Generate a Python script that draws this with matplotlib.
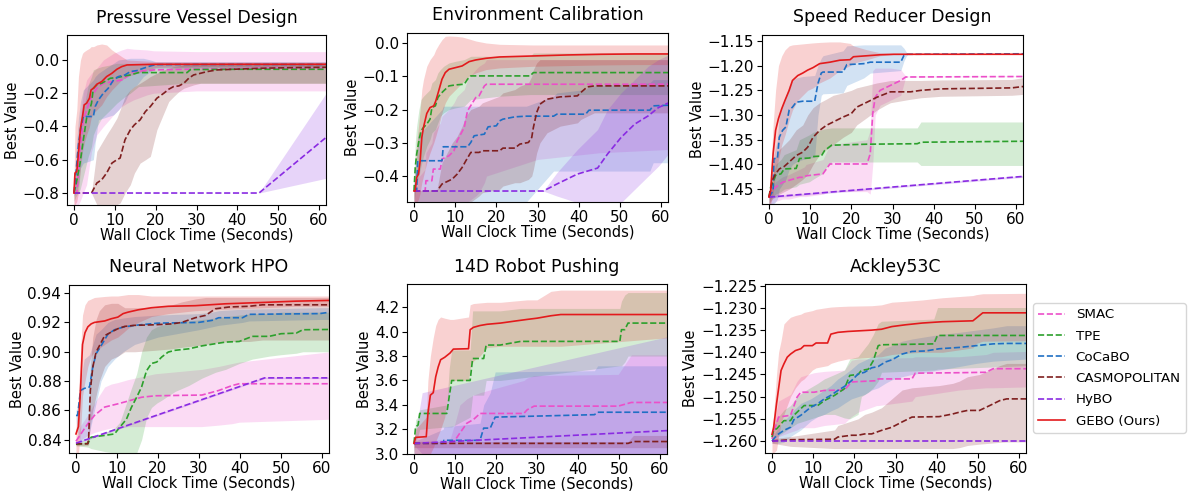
import matplotlib
matplotlib.use("Agg")
import matplotlib.pyplot as plt

# ---- series names / colours ----
names = ["SMAC", "TPE", "CoCaBO", "CASMOPOLITAN", "HyBO", "GEBO (Ours)"]
colors = ["#ec4fc9", "#2ca02c", "#1f6fc4", "#7f1f1f", "#8a2be2", "#e31a1c"]
titles = ["Pressure Vessel Design", "Environment Calibration", "Speed Reducer Design",
          "Neural Network HPO", "14D Robot Pushing", "Ackley53C"]

# ---------------- Pressure Vessel Design ----------------
pv_smac_t = [0, 0.7, 1.1, 1.5, 2.3, 3.1, 4.3, 5.6, 7.2, 9.7, 11.7, 13, 14.6, 17.9, 19.5, 30, 45, 62]
pv_smac_y = [-0.80, -0.80, -0.66, -0.52, -0.36, -0.30, -0.22, -0.17, -0.14, -0.13, -0.12, -0.10, -0.07, -0.064, -0.06, -0.055, -0.05, -0.05]
pv_smac_lo = [-0.87, -0.87, -0.87, -0.85, -0.80, -0.75, -0.55, -0.45, -0.40, -0.33, -0.28, -0.26, -0.24, -0.21, -0.20, -0.186, -0.186, -0.186]
pv_smac_hi = [-0.75, -0.70, -0.50, -0.35, -0.20, -0.12, -0.08, -0.05, 0.0, 0.04, 0.06, 0.07, 0.065, 0.06, 0.055, 0.05, 0.05, 0.05]

pv_tpe_t = [0, 0.5, 1.5, 2.3, 3.1, 3.5, 4.3, 4.75, 5.6, 6.8, 8.9, 10.5, 12.5, 13.8, 15.8, 27.7, 28.5, 40, 50, 62]
pv_tpe_y = [-0.80, -0.75, -0.62, -0.48, -0.35, -0.33, -0.26, -0.17, -0.15, -0.14, -0.11, -0.106, -0.096, -0.09, -0.076, -0.076, -0.058, -0.056, -0.056, -0.056]
pv_tpe_lo = [-0.85, -0.82, -0.78, -0.70, -0.62, -0.58, -0.52, -0.45, -0.40, -0.35, -0.30, -0.26, -0.22, -0.20, -0.16, -0.14, -0.14, -0.14, -0.14, -0.14]
pv_tpe_hi = [-0.75, -0.65, -0.45, -0.30, -0.20, -0.15, -0.10, -0.06, -0.05, -0.04, -0.03, -0.02, -0.02, -0.02, -0.02, -0.02, -0.02, -0.02, -0.02, -0.02]

pv_cocabo_t = [0, 0.5, 1.1, 1.6, 2.3, 4.75, 5.2, 6, 7.2, 8.4, 9.7, 10.9, 12.5, 13.8, 15.4, 17, 18.7, 20, 30, 45, 62]
pv_cocabo_y = [-0.80, -0.68, -0.51, -0.42, -0.34, -0.34, -0.28, -0.24, -0.20, -0.17, -0.12, -0.10, -0.09, -0.07, -0.064, -0.05, -0.036, -0.028, -0.027, -0.027, -0.027]
pv_cocabo_lo = [-0.82, -0.80, -0.75, -0.65, -0.62, -0.60, -0.50, -0.36, -0.35, -0.34, -0.33, -0.30, -0.25, -0.18, -0.15, -0.10, -0.07, -0.05, -0.045, -0.045, -0.045]
pv_cocabo_hi = [-0.78, -0.55, -0.35, -0.25, -0.18, -0.12, -0.10, -0.08, -0.06, -0.04, -0.02, 0.0, 0.005, 0.01, 0.01, 0.01, 0.0, -0.01, -0.01, -0.01, -0.01]

pv_casmo_t = [0, 4.3, 5.6, 6.8, 8, 9.3, 10.5, 11.3, 12.5, 13.8, 14.8, 16.2, 17.5, 18.7, 20.3, 22, 23.2, 24.4, 25.7, 26.9, 28.1, 29.3, 31, 32.6, 35, 39, 45.7, 54, 62]
pv_casmo_y = [-0.80, -0.80, -0.74, -0.72, -0.68, -0.62, -0.60, -0.59, -0.48, -0.42, -0.39, -0.36, -0.31, -0.28, -0.23, -0.20, -0.176, -0.16, -0.156, -0.14, -0.11, -0.09, -0.08, -0.07, -0.06, -0.056, -0.05, -0.046, -0.044]
pv_casmo_lo = [-0.80, -0.80, -0.87, -0.87, -0.87, -0.87, -0.87, -0.86, -0.80, -0.75, -0.68, -0.62, -0.60, -0.58, -0.42, -0.32, -0.25, -0.22, -0.19, -0.17, -0.16, -0.15, -0.14, -0.14, -0.14, -0.14, -0.14, -0.14, -0.14]
pv_casmo_hi = [-0.80, -0.80, -0.55, -0.50, -0.45, -0.40, -0.35, -0.30, -0.22, -0.18, -0.16, -0.14, -0.12, -0.10, -0.08, -0.06, -0.05, -0.04, -0.035, -0.03, -0.025, -0.02, -0.02, -0.02, -0.02, -0.02, -0.02, -0.02, -0.02]

pv_hybo_t = [0, 45.3, 62]
pv_hybo_y = [-0.80, -0.80, -0.46]
pv_hybo_lo = [-0.80, -0.80, -0.71]
pv_hybo_hi = [-0.80, -0.80, -0.19]

pv_gebo_t = [0, 0.25, 0.7, 1.1, 1.6, 2.1, 2.5, 3.1, 3.8, 4.2, 4.8, 5.6, 6.8, 8, 9.3, 10.5, 11.7, 13, 20, 30, 40, 50, 62]
pv_gebo_y = [-0.80, -0.68, -0.67, -0.56, -0.41, -0.34, -0.27, -0.26, -0.23, -0.18, -0.17, -0.146, -0.13, -0.10, -0.08, -0.056, -0.04, -0.03, -0.026, -0.026, -0.026, -0.026, -0.026]
pv_gebo_lo = [-0.87, -0.87, -0.85, -0.80, -0.65, -0.55, -0.50, -0.45, -0.40, -0.35, -0.32, -0.30, -0.27, -0.22, -0.18, -0.15, -0.12, -0.10, -0.045, -0.04, -0.04, -0.04, -0.04]
pv_gebo_hi = [-0.75, -0.40, -0.30, -0.10, 0.0, 0.04, 0.05, 0.06, 0.07, 0.08, 0.08, 0.09, 0.096, 0.09, 0.06, 0.04, 0.02, 0.0, -0.01, -0.012, -0.012, -0.012, -0.012]

# ---------------- Environment Calibration ----------------
ec_smac_t = [0, 2.7, 2.9, 4.35, 4.7, 6.4, 6.8, 8.5, 9.7, 10.5, 12.2, 13, 15, 15.8, 17.1, 17.6, 30, 45, 62]
ec_smac_y = [-0.445, -0.445, -0.414, -0.414, -0.379, -0.379, -0.349, -0.339, -0.324, -0.294, -0.254, -0.204, -0.164, -0.159, -0.129, -0.124, -0.124, -0.124, -0.124]
ec_smac_lo = [-0.478, -0.478, -0.478, -0.478, -0.478, -0.478, -0.478, -0.478, -0.478, -0.478, -0.478, -0.478, -0.46, -0.45, -0.42, -0.40, -0.35, -0.33, -0.32]
ec_smac_hi = [-0.42, -0.38, -0.33, -0.30, -0.27, -0.24, -0.22, -0.20, -0.18, -0.16, -0.14, -0.11, -0.08, -0.07, -0.06, -0.05, -0.05, -0.05, -0.05]

ec_tpe_t = [0, 0.3, 0.65, 1.2, 1.7, 2.3, 3.1, 3.9, 4.35, 5.2, 5.8, 6.4, 7.2, 8.5, 10.1, 12.2, 13, 13.8, 20.8, 28.2, 29, 40, 50, 62]
ec_tpe_y = [-0.445, -0.374, -0.334, -0.294, -0.264, -0.254, -0.244, -0.229, -0.194, -0.189, -0.164, -0.154, -0.144, -0.129, -0.126, -0.124, -0.109, -0.099, -0.099, -0.099, -0.089, -0.089, -0.089, -0.089]
ec_tpe_lo = [-0.478, -0.45, -0.42, -0.40, -0.37, -0.34, -0.31, -0.29, -0.27, -0.26, -0.24, -0.22, -0.21, -0.20, -0.195, -0.19, -0.18, -0.17, -0.16, -0.155, -0.155, -0.155, -0.155, -0.155]
ec_tpe_hi = [-0.42, -0.30, -0.25, -0.20, -0.17, -0.16, -0.15, -0.14, -0.12, -0.11, -0.09, -0.08, -0.07, -0.06, -0.055, -0.05, -0.045, -0.04, -0.04, -0.04, -0.03, -0.03, -0.03, -0.03]

ec_cocabo_t = [0, 0.65, 0.9, 6.8, 7.1, 13, 13.8, 14.6, 17.1, 18, 20, 20.8, 21.6, 24.5, 27.3, 33.9, 34.7, 41.7, 42.5, 57.3, 58.1, 62]
ec_cocabo_y = [-0.445, -0.445, -0.354, -0.354, -0.312, -0.312, -0.299, -0.279, -0.274, -0.252, -0.249, -0.234, -0.229, -0.222, -0.22, -0.22, -0.214, -0.214, -0.202, -0.202, -0.189, -0.187]
ec_cocabo_lo = [-0.478, -0.478, -0.478, -0.478, -0.478, -0.478, -0.478, -0.478, -0.478, -0.478, -0.478, -0.478, -0.478, -0.478, -0.478, -0.385, -0.385, -0.385, -0.385, -0.385, -0.36, -0.36]
ec_cocabo_hi = [-0.40, -0.35, -0.28, -0.20, -0.19, -0.19, -0.19, -0.19, -0.19, -0.19, -0.19, -0.19, -0.19, -0.19, -0.19, -0.16, -0.15, -0.14, -0.13, -0.12, -0.11, -0.11]

ec_casmo_t = [0, 5.6, 6.8, 9.3, 10.5, 11.7, 12.6, 13.8, 15.8, 16.6, 20.8, 21.6, 24.5, 25.7, 27.8, 28.6, 29, 29.8, 30.6, 32.3, 35.5, 39.7, 40.5, 42.1, 43.8, 62]
ec_casmo_y = [-0.445, -0.445, -0.424, -0.409, -0.394, -0.374, -0.354, -0.329, -0.329, -0.324, -0.324, -0.316, -0.316, -0.304, -0.299, -0.284, -0.254, -0.209, -0.184, -0.169, -0.162, -0.159, -0.149, -0.132, -0.129, -0.129]
ec_casmo_lo = [-0.478, -0.478, -0.478, -0.478, -0.478, -0.478, -0.478, -0.478, -0.46, -0.45, -0.44, -0.43, -0.42, -0.42, -0.41, -0.40, -0.38, -0.33, -0.30, -0.27, -0.25, -0.24, -0.23, -0.22, -0.21, -0.21]
ec_casmo_hi = [-0.445, -0.44, -0.36, -0.30, -0.28, -0.25, -0.22, -0.20, -0.19, -0.18, -0.16, -0.15, -0.14, -0.13, -0.12, -0.10, -0.08, -0.06, -0.05, -0.05, -0.05, -0.05, -0.05, -0.05, -0.05, -0.05]

ec_hybo_t = [0, 31.4, 34.7, 39.7, 44.6, 47, 50.3, 53.6, 56.9, 59.4, 62]
ec_hybo_y = [-0.445, -0.445, -0.424, -0.394, -0.376, -0.334, -0.284, -0.244, -0.219, -0.194, -0.179]
ec_hybo_lo = [-0.445, -0.445, -0.46, -0.48, -0.50, -0.50, -0.48, -0.44, -0.40, -0.37, -0.33]
ec_hybo_hi = [-0.445, -0.445, -0.39, -0.32, -0.26, -0.20, -0.15, -0.11, -0.07, -0.05, -0.035]

ec_gebo_t = [0, 0.25, 0.65, 1.1, 1.5, 1.9, 2.3, 3.1, 3.9, 4.8, 5.3, 6, 6.8, 7.6, 8.5, 10.1, 11.7, 13.4, 15, 17.5, 20.8, 29, 37.2, 45.4, 53.6, 62]
ec_gebo_y = [-0.445, -0.445, -0.404, -0.394, -0.354, -0.284, -0.254, -0.212, -0.194, -0.189, -0.174, -0.144, -0.109, -0.089, -0.079, -0.074, -0.069, -0.056, -0.051, -0.046, -0.042, -0.039, -0.036, -0.034, -0.033, -0.033]
ec_gebo_lo = [-0.478, -0.478, -0.478, -0.47, -0.45, -0.42, -0.40, -0.36, -0.33, -0.30, -0.28, -0.25, -0.21, -0.18, -0.16, -0.14, -0.12, -0.10, -0.09, -0.08, -0.075, -0.07, -0.068, -0.066, -0.065, -0.065]
ec_gebo_hi = [-0.445, -0.40, -0.30, -0.25, -0.20, -0.14, -0.11, -0.07, -0.05, -0.035, -0.02, -0.005, 0.01, 0.02, 0.021, 0.02, 0.018, 0.012, 0.006, 0.0, -0.004, -0.006, -0.006, -0.006, -0.006, -0.006]

# ---------------- Speed Reducer Design ----------------
sr_smac_t = [0, 0.8, 1.6, 3.3, 4.9, 7.4, 8.6, 9, 13.1, 14.8, 23.8, 24.6, 25.2, 25.8, 27, 29.5, 32, 33.2, 62]
sr_smac_y = [-1.466, -1.453, -1.446, -1.436, -1.432, -1.426, -1.426, -1.423, -1.419, -1.399, -1.399, -1.378, -1.297, -1.264, -1.25, -1.24, -1.23, -1.223, -1.222]
sr_smac_lo = [-1.48, -1.48, -1.475, -1.47, -1.47, -1.465, -1.465, -1.465, -1.46, -1.455, -1.455, -1.46, -1.40, -1.30, -1.28, -1.27, -1.26, -1.223, -1.222]
sr_smac_hi = [-1.46, -1.445, -1.435, -1.425, -1.42, -1.41, -1.405, -1.40, -1.39, -1.36, -1.35, -1.33, -1.21, -1.205, -1.205, -1.205, -1.208, -1.221, -1.221]

sr_tpe_t = [0, 0.4, 1, 1.6, 2.9, 3.7, 6.6, 7.4, 9.8, 10.7, 12.7, 13.5, 15.2, 23.8, 36, 36.9, 62]
sr_tpe_y = [-1.466, -1.446, -1.436, -1.422, -1.419, -1.409, -1.408, -1.388, -1.387, -1.384, -1.383, -1.372, -1.361, -1.359, -1.358, -1.355, -1.353]
sr_tpe_lo = [-1.48, -1.47, -1.465, -1.46, -1.455, -1.45, -1.445, -1.44, -1.435, -1.43, -1.42, -1.41, -1.395, -1.395, -1.395, -1.402, -1.402]
sr_tpe_hi = [-1.46, -1.43, -1.42, -1.40, -1.39, -1.38, -1.37, -1.35, -1.34, -1.335, -1.33, -1.328, -1.326, -1.326, -1.326, -1.314, -1.314]

sr_cocabo_t = [0, 1, 1.2, 2.05, 2.5, 3.3, 4.1, 4.9, 5.7, 6.6, 8.2, 11.1, 11.9, 12.7, 13.1, 18, 18.9, 23, 24.6, 32, 32.8, 33.6, 62]
sr_cocabo_y = [-1.466, -1.453, -1.388, -1.388, -1.345, -1.331, -1.324, -1.29, -1.284, -1.274, -1.272, -1.272, -1.236, -1.215, -1.213, -1.213, -1.198, -1.196, -1.193, -1.193, -1.179, -1.177, -1.176]
sr_cocabo_lo = [-1.48, -1.48, -1.48, -1.47, -1.45, -1.44, -1.43, -1.41, -1.40, -1.395, -1.39, -1.385, -1.30, -1.26, -1.257, -1.255, -1.24, -1.225, -1.215, -1.21, -1.19, -1.177, -1.176]
sr_cocabo_hi = [-1.46, -1.44, -1.38, -1.35, -1.30, -1.28, -1.26, -1.24, -1.23, -1.225, -1.222, -1.22, -1.20, -1.185, -1.18, -1.17, -1.16, -1.158, -1.158, -1.158, -1.165, -1.176, -1.176]

sr_casmo_t = [0, 0.8, 1.6, 2.5, 3.7, 4.9, 6.6, 8.2, 9.4, 10.7, 12.3, 13.9, 15.6, 18, 20, 21.3, 23.8, 26.2, 28.3, 29.5, 34.4, 36.9, 41.8, 59, 62]
sr_casmo_y = [-1.466, -1.432, -1.419, -1.409, -1.404, -1.395, -1.382, -1.375, -1.365, -1.345, -1.331, -1.321, -1.314, -1.304, -1.297, -1.284, -1.274, -1.264, -1.257, -1.253, -1.253, -1.25, -1.247, -1.245, -1.242]
sr_casmo_lo = [-1.48, -1.47, -1.465, -1.46, -1.455, -1.45, -1.44, -1.43, -1.42, -1.40, -1.38, -1.37, -1.36, -1.345, -1.335, -1.32, -1.305, -1.29, -1.28, -1.275, -1.268, -1.265, -1.262, -1.26, -1.258]
sr_casmo_hi = [-1.46, -1.40, -1.385, -1.37, -1.36, -1.35, -1.33, -1.32, -1.30, -1.285, -1.275, -1.268, -1.26, -1.255, -1.25, -1.245, -1.24, -1.235, -1.232, -1.23, -1.23, -1.23, -1.229, -1.228, -1.224]

sr_hybo_t = [0, 62]
sr_hybo_y = [-1.466, -1.424]
sr_hybo_lo = [-1.468, -1.426]
sr_hybo_hi = [-1.464, -1.422]

sr_gebo_t = [0, 0.4, 1, 1.6, 2.3, 3.1, 3.9, 4.9, 5.7, 7, 8.2, 9.4, 10.7, 12.3, 14.8, 17.2, 19.7, 20.5, 23.8, 27, 30.3, 45, 62]
sr_gebo_y = [-1.466, -1.453, -1.378, -1.331, -1.307, -1.287, -1.27, -1.25, -1.23, -1.22, -1.215, -1.209, -1.204, -1.196, -1.193, -1.189, -1.188, -1.182, -1.18, -1.178, -1.177, -1.177, -1.177]
sr_gebo_lo = [-1.48, -1.48, -1.46, -1.42, -1.39, -1.36, -1.34, -1.31, -1.29, -1.27, -1.26, -1.25, -1.245, -1.235, -1.225, -1.21, -1.20, -1.195, -1.188, -1.18, -1.178, -1.177, -1.177]
sr_gebo_hi = [-1.46, -1.42, -1.32, -1.25, -1.20, -1.18, -1.168, -1.16, -1.158, -1.157, -1.156, -1.155, -1.154, -1.153, -1.152, -1.152, -1.155, -1.16, -1.168, -1.174, -1.176, -1.176, -1.176]

# ---------------- Neural Network HPO ----------------
nn_smac_t = [0, 1.2, 2.9, 4.5, 7, 8.6, 10.2, 12.7, 16, 19.3, 30.7, 34.8, 38.1, 39.8, 62]
nn_smac_y = [0.839, 0.844, 0.851, 0.8566, 0.8623, 0.8634, 0.8645, 0.8664, 0.869, 0.87, 0.8705, 0.8736, 0.877, 0.8782, 0.8782]
nn_smac_lo = [0.838, 0.84, 0.843, 0.845, 0.847, 0.848, 0.848, 0.849, 0.849, 0.849, 0.849, 0.85, 0.851, 0.852, 0.854]
nn_smac_hi = [0.84, 0.85, 0.857, 0.865, 0.876, 0.878, 0.879, 0.881, 0.883, 0.885, 0.888, 0.89, 0.892, 0.893, 0.90]

nn_tpe_t = [0, 2.9, 3.7, 7, 9.4, 10.7, 12.3, 13.5, 14.8, 16, 17.2, 18.4, 19.7, 20.9, 22.5, 24.2, 27.5, 30.7, 34, 36.5, 39.8, 43, 47.1, 50, 53.7, 55.3, 62]
nn_tpe_y = [0.837, 0.8375, 0.8418, 0.843, 0.844, 0.8486, 0.854, 0.862, 0.869, 0.876, 0.887, 0.892, 0.893, 0.8964, 0.8998, 0.901, 0.902, 0.904, 0.9055, 0.9066, 0.907, 0.9105, 0.9105, 0.9123, 0.9127, 0.915, 0.9152]
nn_tpe_lo = [0.836, 0.835, 0.834, 0.832, 0.831, 0.831, 0.831, 0.831, 0.831, 0.84, 0.855, 0.862, 0.865, 0.867, 0.87, 0.873, 0.877, 0.882, 0.886, 0.888, 0.892, 0.895, 0.897, 0.898, 0.899, 0.90, 0.90]
nn_tpe_hi = [0.838, 0.84, 0.842, 0.845, 0.848, 0.852, 0.865, 0.875, 0.885, 0.90, 0.91, 0.915, 0.917, 0.918, 0.919, 0.92, 0.921, 0.922, 0.923, 0.924, 0.925, 0.926, 0.926, 0.927, 0.927, 0.927, 0.927]

nn_cocabo_t = [0, 0.4, 1.1, 2, 3.3, 4.1, 4.9, 6.1, 7.8, 9.4, 11.5, 14.3, 20, 29.9, 33.2, 34.8, 40.6, 42.2, 59.4, 62]
nn_cocabo_y = [0.8566, 0.8566, 0.8736, 0.875, 0.876, 0.8895, 0.8986, 0.904, 0.912, 0.915, 0.9168, 0.918, 0.9195, 0.92, 0.9214, 0.9232, 0.9232, 0.9255, 0.926, 0.927]
nn_cocabo_lo = [0.853, 0.845, 0.838, 0.84, 0.845, 0.855, 0.865, 0.88, 0.89, 0.895, 0.90, 0.905, 0.91, 0.915, 0.917, 0.918, 0.92, 0.921, 0.922, 0.922]
nn_cocabo_hi = [0.86, 0.862, 0.88, 0.895, 0.898, 0.905, 0.912, 0.915, 0.92, 0.922, 0.923, 0.924, 0.925, 0.926, 0.927, 0.928, 0.929, 0.929, 0.93, 0.93]

nn_casmo_t = [0, 2.9, 3.1, 3.5, 4.1, 4.9, 5.7, 7, 8.6, 10.2, 11.9, 14.3, 19.3, 23.4, 25.8, 29.1, 31.6, 34, 37.3, 42.2, 45.5, 62]
nn_casmo_y = [0.8373, 0.8373, 0.842, 0.8736, 0.8895, 0.8998, 0.904, 0.911, 0.9134, 0.9157, 0.9173, 0.918, 0.9184, 0.919, 0.92, 0.9232, 0.9248, 0.9293, 0.9305, 0.931, 0.932, 0.932]
nn_casmo_lo = [0.836, 0.836, 0.837, 0.85, 0.86, 0.87, 0.88, 0.89, 0.895, 0.897, 0.90, 0.90, 0.901, 0.902, 0.903, 0.904, 0.905, 0.906, 0.907, 0.907, 0.908, 0.908]
nn_casmo_hi = [0.838, 0.838, 0.85, 0.89, 0.91, 0.922, 0.928, 0.932, 0.933, 0.933, 0.93, 0.93, 0.93, 0.932, 0.934, 0.936, 0.937, 0.937, 0.937, 0.937, 0.937, 0.937]

nn_hybo_t = [0, 46, 62]
nn_hybo_y = [0.8377, 0.8822, 0.8822]
nn_hybo_lo = [0.8372, 0.8817, 0.8817]
nn_hybo_hi = [0.8382, 0.8827, 0.8827]

nn_gebo_t = [0, 0.6, 1.1, 1.6, 2.2, 2.9, 3.7, 4.5, 7, 8.6, 10.2, 11.5, 12.7, 15.2, 18.4, 22.5, 29.1, 36.5, 45.5, 53.7, 62]
nn_gebo_y = [0.844, 0.849, 0.874, 0.905, 0.913, 0.917, 0.919, 0.92, 0.921, 0.9225, 0.9236, 0.926, 0.927, 0.9286, 0.93, 0.931, 0.9314, 0.9327, 0.9336, 0.9345, 0.935]
nn_gebo_lo = [0.831, 0.831, 0.845, 0.87, 0.88, 0.89, 0.897, 0.90, 0.905, 0.908, 0.91, 0.913, 0.916, 0.92, 0.924, 0.926, 0.928, 0.929, 0.93, 0.931, 0.931]
nn_gebo_hi = [0.848, 0.87, 0.90, 0.925, 0.932, 0.935, 0.936, 0.937, 0.9377, 0.938, 0.938, 0.9385, 0.939, 0.939, 0.938, 0.938, 0.938, 0.938, 0.938, 0.938, 0.938]

# ---------------- 14D Robot Pushing ----------------
rp_smac_t = [0, 8.8, 10, 11.2, 12.9, 14.5, 16.1, 26.8, 27.6, 29.3, 49.8, 53, 62]
rp_smac_y = [3.085, 3.085, 3.11, 3.17, 3.25, 3.28, 3.33, 3.33, 3.36, 3.39, 3.39, 3.42, 3.42]
rp_smac_lo = [3.0, 3.0, 3.0, 3.0, 3.0, 3.0, 3.0, 3.0, 3.0, 3.0, 3.0, 3.0, 3.0]
rp_smac_hi = [3.1, 3.12, 3.25, 3.4, 3.45, 3.48, 3.5, 3.6, 3.62, 3.64, 3.65, 3.81, 3.81]

rp_tpe_t = [0, 0.4, 1, 1.4, 8, 8.6, 9.2, 13.7, 14.3, 17, 17.6, 21, 26, 50.2, 50.6, 51.4, 52.2, 62]
rp_tpe_y = [3.085, 3.22, 3.235, 3.33, 3.33, 3.47, 3.6, 3.6, 3.78, 3.78, 3.89, 3.89, 3.92, 3.92, 4.016, 4.016, 4.07, 4.07]
rp_tpe_lo = [3.0, 3.1, 3.15, 3.2, 3.22, 3.22, 3.22, 3.3, 3.48, 3.48, 3.6, 3.6, 3.62, 3.72, 3.72, 3.75, 3.8, 3.8]
rp_tpe_hi = [3.1, 3.28, 3.3, 3.36, 3.4, 3.7, 3.85, 3.85, 4.17, 4.17, 4.17, 4.17, 4.19, 4.19, 4.25, 4.3, 4.32, 4.32]

rp_cocabo_t = [0, 7.1, 7.3, 16.1, 17, 18.6, 19.8, 44, 44.8, 62]
rp_cocabo_y = [3.085, 3.085, 3.11, 3.11, 3.21, 3.21, 3.30, 3.32, 3.34, 3.34]
rp_cocabo_lo = [3.0, 3.0, 3.0, 3.0, 3.0, 3.0, 3.0, 3.0, 3.0, 3.0]
rp_cocabo_hi = [3.1, 3.2, 3.22, 3.25, 3.4, 3.5, 3.67, 3.68, 3.72, 3.72]

rp_casmo_t = [0, 52.2, 53.5, 62]
rp_casmo_y = [3.085, 3.085, 3.10, 3.10]
rp_casmo_lo = [3.05, 3.05, 3.05, 3.05]
rp_casmo_hi = [3.10, 3.10, 3.15, 3.15]

rp_hybo_t = [0, 2, 62]
rp_hybo_y = [3.085, 3.088, 3.19]
rp_hybo_lo = [3.07, 3.0, 3.0]
rp_hybo_hi = [3.10, 3.50, 3.96]

rp_gebo_t = [0, 0.4, 3, 3.4, 4, 4.7, 5.3, 5.9, 6.5, 7.5, 8.8, 9.6, 13.3, 13.7, 14.5, 16.1, 17.8, 21.1, 24.3, 27.6, 30, 33.4, 35.8, 62]
rp_gebo_y = [3.085, 3.134, 3.14, 3.33, 3.48, 3.50, 3.63, 3.71, 3.77, 3.79, 3.825, 3.857, 3.86, 4.016, 4.035, 4.05, 4.06, 4.07, 4.085, 4.10, 4.11, 4.13, 4.14, 4.14]
rp_gebo_lo = [3.0, 3.0, 3.0, 3.0, 3.0, 3.05, 3.1, 3.15, 3.2, 3.3, 3.6, 3.6, 3.6, 3.7, 3.76, 3.8, 3.87, 3.88, 3.88, 3.88, 3.88, 3.88, 3.88, 3.95]
rp_gebo_hi = [3.1, 3.2, 3.3, 3.6, 3.8, 3.95, 4.05, 4.10, 4.12, 4.11, 4.10, 4.10, 4.12, 4.22, 4.23, 4.235, 4.24, 4.24, 4.25, 4.26, 4.26, 4.33, 4.34, 4.34]

# ---------------- Ackley53C ----------------
ak_smac_t = [0, 0.8, 1.6, 4.5, 6.1, 7, 10.2, 12.7, 17.6, 19.3, 20.9, 25.4, 25.8, 34, 34.8, 45.5, 52, 53.7, 62]
ak_smac_y = [-1.2595, -1.2569, -1.2546, -1.2542, -1.2501, -1.249, -1.249, -1.2486, -1.2485, -1.2467, -1.2466, -1.2464, -1.246, -1.246, -1.2447, -1.2446, -1.2445, -1.2437, -1.2437]
ak_smac_lo = [-1.2605, -1.26, -1.259, -1.258, -1.2575, -1.257, -1.257, -1.2565, -1.256, -1.2545, -1.2535, -1.252, -1.252, -1.251, -1.25, -1.2485, -1.248, -1.248, -1.2478]
ak_smac_hi = [-1.259, -1.2545, -1.251, -1.2495, -1.2465, -1.2455, -1.2446, -1.2443, -1.244, -1.2418, -1.2415, -1.2415, -1.2413, -1.2412, -1.241, -1.241, -1.2405, -1.24, -1.2398]

ak_tpe_t = [0, 0.4, 1.2, 2.9, 4.5, 5.3, 6.1, 7.8, 11.1, 12.7, 15.2, 17.6, 18.9, 20.9, 21.7, 23.4, 24.6, 25.8, 26.6, 39.3, 40.2, 62]
ak_tpe_y = [-1.2591, -1.2576, -1.2572, -1.2554, -1.2554, -1.2542, -1.2535, -1.252, -1.252, -1.2509, -1.2497, -1.2482, -1.2452, -1.245, -1.2441, -1.2438, -1.2419, -1.2385, -1.2383, -1.2381, -1.2362, -1.2362]
ak_tpe_lo = [-1.26, -1.2595, -1.259, -1.258, -1.257, -1.2565, -1.256, -1.2555, -1.2545, -1.254, -1.254, -1.2548, -1.255, -1.254, -1.25, -1.249, -1.248, -1.2465, -1.2445, -1.244, -1.2438, -1.243]
ak_tpe_hi = [-1.258, -1.2565, -1.255, -1.253, -1.252, -1.251, -1.25, -1.2488, -1.247, -1.246, -1.245, -1.244, -1.2415, -1.241, -1.24, -1.238, -1.236, -1.2335, -1.233, -1.2325, -1.2299, -1.2299]

ak_cocabo_t = [0, 0.8, 1.6, 2.9, 4.5, 5.3, 7, 9.4, 11.1, 12.7, 14.3, 16, 17.6, 19.3, 20.9, 22.5, 24.2, 25.8, 27.5, 29.1, 31.6, 34, 37.3, 40.6, 45.5, 49.6, 53.7, 57, 62]
ak_cocabo_y = [-1.26, -1.2591, -1.2584, -1.2576, -1.2569, -1.2552, -1.2542, -1.2524, -1.2516, -1.2505, -1.2497, -1.2486, -1.2477, -1.2464, -1.2449, -1.2445, -1.2435, -1.2432, -1.2422, -1.2417, -1.2404, -1.2398, -1.2397, -1.2392, -1.2389, -1.2385, -1.2381, -1.238, -1.238]
ak_cocabo_lo = [-1.2605, -1.2605, -1.2605, -1.2603, -1.259, -1.2585, -1.2575, -1.2555, -1.2545, -1.254, -1.2532, -1.2525, -1.2515, -1.2505, -1.25, -1.2495, -1.2485, -1.248, -1.247, -1.2462, -1.2455, -1.245, -1.2445, -1.244, -1.2432, -1.2425, -1.242, -1.2418, -1.2415]
ak_cocabo_hi = [-1.2595, -1.258, -1.257, -1.2555, -1.254, -1.253, -1.2515, -1.2505, -1.2495, -1.2485, -1.2475, -1.246, -1.245, -1.2438, -1.2425, -1.2418, -1.241, -1.2405, -1.239, -1.2385, -1.2375, -1.237, -1.2365, -1.236, -1.2355, -1.235, -1.2345, -1.234, -1.234]

ak_casmo_t = [0, 4.5, 15.2, 16, 19.3, 20.9, 22.5, 24.2, 26.6, 29.1, 31.6, 34, 40.6, 43.9, 45.5, 47.5, 50.4, 52.9, 55.3, 57, 62]
ak_casmo_y = [-1.26, -1.2597, -1.2596, -1.2591, -1.2587, -1.2587, -1.2584, -1.2584, -1.2576, -1.2569, -1.2557, -1.2546, -1.2545, -1.2539, -1.2535, -1.2531, -1.2531, -1.252, -1.2509, -1.2505, -1.2505]
ak_casmo_lo = [-1.2605, -1.2612, -1.2617, -1.2617, -1.2617, -1.2617, -1.2617, -1.2617, -1.2617, -1.2617, -1.2617, -1.2617, -1.2617, -1.2617, -1.2615, -1.261, -1.2607, -1.2605, -1.2603, -1.2602, -1.2602]
ak_casmo_hi = [-1.2595, -1.259, -1.2575, -1.2565, -1.2555, -1.255, -1.254, -1.2535, -1.2525, -1.2505, -1.2485, -1.248, -1.2475, -1.247, -1.2465, -1.2455, -1.245, -1.244, -1.243, -1.2425, -1.2425]

ak_hybo_t = [0, 62]
ak_hybo_y = [-1.26, -1.26]
ak_hybo_lo = [-1.26003, -1.26003]
ak_hybo_hi = [-1.25997, -1.25997]

ak_gebo_t = [0, 0.4, 1.1, 1.6, 2.2, 2.9, 3.7, 4.5, 5.7, 7, 7.8, 9.8, 10.7, 13.5, 14.3, 16, 18.4, 24.2, 26.6, 29.1, 32.4, 36.5, 41.4, 48.8, 49.6, 51.2, 62]
ak_gebo_y = [-1.2585, -1.2569, -1.2516, -1.2482, -1.2441, -1.2426, -1.2411, -1.2404, -1.2396, -1.2392, -1.2385, -1.2385, -1.2379, -1.2379, -1.2359, -1.2355, -1.2353, -1.235, -1.2348, -1.2342, -1.2338, -1.2334, -1.2331, -1.2329, -1.2323, -1.2311, -1.2311]
ak_gebo_lo = [-1.2627, -1.2627, -1.262, -1.259, -1.256, -1.254, -1.252, -1.25, -1.248, -1.2465, -1.246, -1.244, -1.2435, -1.243, -1.2425, -1.242, -1.2415, -1.2411, -1.241, -1.2405, -1.2402, -1.24, -1.24, -1.239, -1.238, -1.2375, -1.2374]
ak_gebo_hi = [-1.2575, -1.254, -1.245, -1.24, -1.2374, -1.2336, -1.2328, -1.2321, -1.2317, -1.2314, -1.231, -1.2306, -1.2303, -1.2299, -1.2298, -1.2297, -1.2296, -1.2295, -1.2293, -1.2287, -1.2285, -1.2282, -1.2277, -1.2272, -1.227, -1.2268, -1.2267]

# ---- axis limits and ticks ----
ylims = [(-0.872, 0.15), (-0.478, 0.03), (-1.48, -1.138),
         (0.831, 0.9455), (2.998, 4.39), (-1.2627, -1.2246)]
yticks = [[-0.8, -0.6, -0.4, -0.2, 0.0],
          [-0.4, -0.3, -0.2, -0.1, 0.0],
          [-1.45, -1.40, -1.35, -1.30, -1.25, -1.20, -1.15],
          [0.84, 0.86, 0.88, 0.90, 0.92, 0.94],
          [3.0, 3.2, 3.4, 3.6, 3.8, 4.0, 4.2],
          [-1.260, -1.255, -1.250, -1.245, -1.240, -1.235, -1.230, -1.225]]
xticks = [0, 10, 20, 30, 40, 50, 60]

panels = [
    [(pv_smac_t, pv_smac_y, pv_smac_lo, pv_smac_hi), (pv_tpe_t, pv_tpe_y, pv_tpe_lo, pv_tpe_hi),
     (pv_cocabo_t, pv_cocabo_y, pv_cocabo_lo, pv_cocabo_hi), (pv_casmo_t, pv_casmo_y, pv_casmo_lo, pv_casmo_hi),
     (pv_hybo_t, pv_hybo_y, pv_hybo_lo, pv_hybo_hi), (pv_gebo_t, pv_gebo_y, pv_gebo_lo, pv_gebo_hi)],
    [(ec_smac_t, ec_smac_y, ec_smac_lo, ec_smac_hi), (ec_tpe_t, ec_tpe_y, ec_tpe_lo, ec_tpe_hi),
     (ec_cocabo_t, ec_cocabo_y, ec_cocabo_lo, ec_cocabo_hi), (ec_casmo_t, ec_casmo_y, ec_casmo_lo, ec_casmo_hi),
     (ec_hybo_t, ec_hybo_y, ec_hybo_lo, ec_hybo_hi), (ec_gebo_t, ec_gebo_y, ec_gebo_lo, ec_gebo_hi)],
    [(sr_smac_t, sr_smac_y, sr_smac_lo, sr_smac_hi), (sr_tpe_t, sr_tpe_y, sr_tpe_lo, sr_tpe_hi),
     (sr_cocabo_t, sr_cocabo_y, sr_cocabo_lo, sr_cocabo_hi), (sr_casmo_t, sr_casmo_y, sr_casmo_lo, sr_casmo_hi),
     (sr_hybo_t, sr_hybo_y, sr_hybo_lo, sr_hybo_hi), (sr_gebo_t, sr_gebo_y, sr_gebo_lo, sr_gebo_hi)],
    [(nn_smac_t, nn_smac_y, nn_smac_lo, nn_smac_hi), (nn_tpe_t, nn_tpe_y, nn_tpe_lo, nn_tpe_hi),
     (nn_cocabo_t, nn_cocabo_y, nn_cocabo_lo, nn_cocabo_hi), (nn_casmo_t, nn_casmo_y, nn_casmo_lo, nn_casmo_hi),
     (nn_hybo_t, nn_hybo_y, nn_hybo_lo, nn_hybo_hi), (nn_gebo_t, nn_gebo_y, nn_gebo_lo, nn_gebo_hi)],
    [(rp_smac_t, rp_smac_y, rp_smac_lo, rp_smac_hi), (rp_tpe_t, rp_tpe_y, rp_tpe_lo, rp_tpe_hi),
     (rp_cocabo_t, rp_cocabo_y, rp_cocabo_lo, rp_cocabo_hi), (rp_casmo_t, rp_casmo_y, rp_casmo_lo, rp_casmo_hi),
     (rp_hybo_t, rp_hybo_y, rp_hybo_lo, rp_hybo_hi), (rp_gebo_t, rp_gebo_y, rp_gebo_lo, rp_gebo_hi)],
    [(ak_smac_t, ak_smac_y, ak_smac_lo, ak_smac_hi), (ak_tpe_t, ak_tpe_y, ak_tpe_lo, ak_tpe_hi),
     (ak_cocabo_t, ak_cocabo_y, ak_cocabo_lo, ak_cocabo_hi), (ak_casmo_t, ak_casmo_y, ak_casmo_lo, ak_casmo_hi),
     (ak_hybo_t, ak_hybo_y, ak_hybo_lo, ak_hybo_hi), (ak_gebo_t, ak_gebo_y, ak_gebo_lo, ak_gebo_hi)],
]

# axes boxes in pixels: left, top, right, bottom
W, H = 1190, 491
boxes = [(67, 35, 326, 205), (407, 33, 668, 202), (762, 35, 1023, 204),
         (69, 285, 329, 453), (407, 284, 667, 454), (765, 284, 1026, 453)]

plt.rcParams["font.family"] = "DejaVu Sans"
fig = plt.figure(figsize=(W / 100, H / 100), dpi=100)

handles = []
for i, series in enumerate(panels):
    l, t, r, b = boxes[i]
    ax = fig.add_axes([l / W, 1 - b / H, (r - l) / W, (b - t) / H])
    handles = []
    for j, (tt, yy, lo, hi) in enumerate(series):
        ax.fill_between(tt, lo, hi, color=colors[j], alpha=0.2, linewidth=0)
        ls = "-" if j == 5 else "--"
        h, = ax.plot(tt, yy, ls, color=colors[j], lw=1.2, label=names[j])
        handles.append(h)
    ax.set_xlim(-1.7, 61.7)
    ax.set_ylim(*ylims[i])
    ax.set_xticks(xticks)
    ax.set_yticks(yticks[i])
    ax.tick_params(labelsize=11, pad=2)
    ax.set_title(titles[i], fontsize=12.5, pad=9)
    ax.set_xlabel("Wall Clock Time (Seconds)", fontsize=10.5, labelpad=0)
    ax.set_ylabel("Best Value", fontsize=10.5, labelpad=2)

fig.legend(handles, names, loc="upper left", bbox_to_anchor=(1033 / W, 1 - 303 / H),
           fontsize=9.6, frameon=True, borderaxespad=0, labelspacing=0.62)

fig.savefig("out.png", dpi=100)
